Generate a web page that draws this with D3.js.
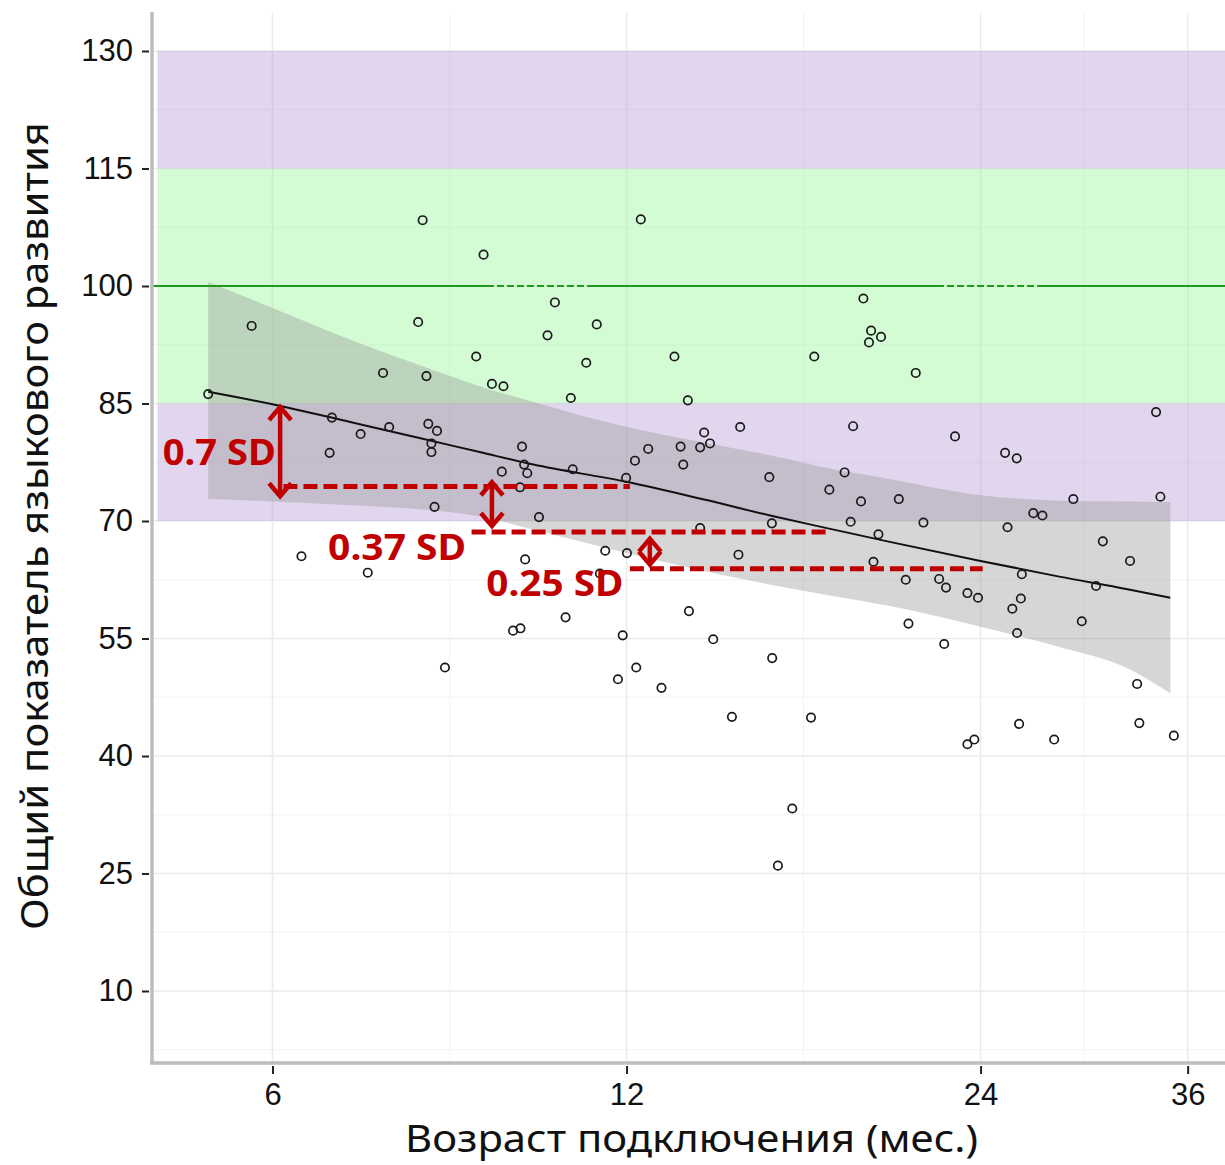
<!DOCTYPE html>
<html><head><meta charset="utf-8">
<script src="https://cdn.jsdelivr.net/npm/d3@7"></script>
<style>body{margin:0;background:#fff}</style>
</head><body><svg id="c" width="1225" height="1165" xmlns="http://www.w3.org/2000/svg"></svg>
<script>
// ---- data ----
const ageMonths = [9.07,5.76,7.98,8.94,7.45,8.11,9.22,9.43,10.28,5.29,6.74,7.13,7.54,8.14,8.28,8.19,8.19,6.71,9.78,9.82,
  9.88,9.40,9.74,8.24,10.11,10.43,11.32,11.09,13.18,17.33,10.76,13.53,10.80,12.52,12.20,11.99,13.34,13.41,13.97,13.86,
  14.13,14.99,15.87,17.85,18.39,18.70,13.86,15.95,18.61,19.08,19.37,19.75,19.29,21.14,33.84,22.83,25.18,25.76,18.99,20.45,
  21.46,19.65,26.61,27.09,28.78,34.13,25.30,30.49,32.16,19.46,20.73,22.13,22.43,23.39,23.88,26.02,25.97,25.54,30.09,25.78,
  29.26,20.84,22.35,32.61,32.75,25.88,27.72,23.39,23.71,35.04,9.84,11.51,12.01,14.94,11.39,9.61,9.75,10.65,13.56,11.91,
  14.22,15.96,12.23,11.80,12.85,14.75,17.22,16.60,16.14,6.35,7.23,8.41,8.05,12.34];
const languageScore = [104.0,94.9,95.4,91.0,88.9,88.5,87.5,87.2,93.7,86.2,83.2,81.1,82.0,82.4,81.5,79.9,78.8,78.7,79.5,77.2,
  76.1,76.3,74.3,71.8,70.5,97.9,95.1,90.2,91.0,91.0,85.7,85.4,76.6,79.2,77.7,75.5,79.5,77.2,81.3,79.4,
  79.9,82.0,75.6,74.0,76.2,82.1,69.1,69.7,69.9,98.4,94.3,93.5,92.8,88.9,83.9,80.8,78.7,78.0,72.5,72.8,
  69.8,68.3,71.0,70.7,72.8,73.1,69.2,67.4,64.9,64.8,62.5,62.6,61.5,60.8,60.2,63.2,60.1,58.8,61.7,55.7,
  57.2,56.9,54.3,49.2,44.2,44.1,42.1,41.5,42.1,42.6,65.1,66.2,65.9,65.7,63.3,56.0,56.3,57.7,58.5,55.4,
  54.9,52.5,51.3,49.8,48.7,45.0,44.9,33.3,26.0,65.5,63.4,51.3,108.4,108.5];

const fitAge   = [5.29, 6, 7, 8, 9, 10, 12, 14, 16, 18, 20, 24, 28, 32, 34.8];
const fitScore = [86.5, 84.9, 82.6, 80.6, 78.8, 77.2, 75.0, 72.7, 70.6, 68.9, 67.4, 64.9, 62.9, 61.3, 60.2];
const ciUpper  = [100.5, 97.2, 93.1, 89.9, 87.2, 85.2, 82.0, 80.0, 78.3, 76.6, 75.4, 73.3, 72.6, 72.5, 72.4];
const ciLower  = [72.8, 72.5, 72.0, 71.5, 70.6, 68.9, 65.9, 63.6, 61.8, 60.4, 59.2, 56.5, 53.9, 51.2, 48.0];

const bandLow  = [115, 85, 70];
const bandHigh = [130, 115, 85];
const bandKind = ['purple', 'green', 'purple'];
const bandStartAge = 4.79;
const normScore = 100;
const normDashedRanges = [[9.13, 11.13], [22.04, 26.86]];

const yTicks = [10, 25, 40, 55, 70, 85, 100, 115, 130];
const yMinor = [2.5, 17.5, 32.5, 47.5, 62.5, 77.5, 92.5, 107.5, 122.5];
const xTicks = [6, 12, 24, 36];
const xMinor = [8.49, 16.97, 29.39];

const sdLabels      = ['0.7 SD', '0.37 SD', '0.25 SD'];
const sdArrowAge    = [6.09, 9.22, 12.56];
const sdArrowTop    = [84.8, 75.2, 68.0];
const sdArrowBottom = [72.9, 69.1, 64.2];
const sdDashFrom    = [6.13, 8.86, 12.08];
const sdDashTo      = [12.08, 17.76, 24.10];
const sdDashLevel   = [74.4, 68.6, 63.9];
const sdLabelAge    = [4.84, 6.69, 9.12];
const sdLabelScore  = [77.1, 65.0, 60.4];

const xTitle = 'Возраст подключения (мес.)';
const yTitle = 'Общий показатель языкового развития';

// ---- styles ----
const colors = { purple: '#b399d4', green: '#94f894', red: '#c00000', norm: '#1f9a1f' };
const P = { left: 152, right: 1225, top: 13, bottom: 1062 };

const svg = d3.select('#c');
const x = d3.scaleLog().domain([4.739, 38.73]).range([P.left, P.right]);
const y = d3.scaleLinear().domain([0.936, 134.85]).range([P.bottom, P.top]);

svg.append('defs').append('clipPath').attr('id', 'clip')
  .append('rect').attr('x', P.left).attr('y', P.top).attr('width', P.right - P.left).attr('height', P.bottom - P.top);

const plot = svg.append('g').attr('clip-path', 'url(#clip)');

// grid
plot.selectAll('.gminy').data(yMinor).join('line')
  .attr('x1', P.left).attr('x2', P.right).attr('y1', d => y(d)).attr('y2', d => y(d))
  .attr('stroke', '#f2f2f2').attr('stroke-width', 1);
plot.selectAll('.gminx').data(xMinor).join('line')
  .attr('y1', P.top).attr('y2', P.bottom).attr('x1', d => x(d)).attr('x2', d => x(d))
  .attr('stroke', '#f2f2f2').attr('stroke-width', 1);
plot.selectAll('.gmajy').data(yTicks).join('line')
  .attr('x1', P.left).attr('x2', P.right).attr('y1', d => y(d)).attr('y2', d => y(d))
  .attr('stroke', '#ebebeb').attr('stroke-width', 1.6);
plot.selectAll('.gmajx').data(xTicks).join('line')
  .attr('y1', P.top).attr('y2', P.bottom).attr('x1', d => x(d)).attr('x2', d => x(d))
  .attr('stroke', '#ebebeb').attr('stroke-width', 1.6);

// bands
plot.selectAll('.band').data(bandLow.map((lo, i) => ({ lo, hi: bandHigh[i], k: bandKind[i] }))).join('rect')
  .attr('x', x(bandStartAge)).attr('width', P.right + 50 - x(bandStartAge))
  .attr('y', d => y(d.hi)).attr('height', d => y(d.lo) - y(d.hi))
  .attr('fill', d => colors[d.k]).attr('fill-opacity', 0.4);

// confidence ribbon
const fitRows = fitAge.map((a, i) => ({ a, f: fitScore[i], lo: ciLower[i], hi: ciUpper[i] }));
plot.append('path').datum(fitRows)
  .attr('d', d3.area().x(d => x(d.a)).y0(d => y(d.lo)).y1(d => y(d.hi)).curve(d3.curveMonotoneX))
  .attr('fill', '#999999').attr('fill-opacity', 0.4);

// norm line at 100 (solid with two dashed stretches)
const xDom = x.domain();
const cuts = [xDom[0]].concat(normDashedRanges.flat()).concat([xDom[1]]);
for (let i = 0; i < cuts.length - 1; i++) {
  plot.append('line')
    .attr('x1', x(cuts[i])).attr('x2', x(cuts[i + 1]))
    .attr('y1', y(normScore)).attr('y2', y(normScore))
    .attr('stroke', colors.norm).attr('stroke-width', 2)
    .attr('stroke-dasharray', i % 2 === 1 ? '7,3' : null);
}

// fit line
plot.append('path').datum(fitRows)
  .attr('d', d3.line().x(d => x(d.a)).y(d => y(d.f)).curve(d3.curveMonotoneX))
  .attr('fill', 'none').attr('stroke', '#111').attr('stroke-width', 2);

// points
plot.selectAll('.pt').data(ageMonths.map((a, i) => ({ a, s: languageScore[i] }))).join('circle')
  .attr('cx', d => x(d.a)).attr('cy', d => y(d.s)).attr('r', 4.2)
  .attr('fill', 'none').attr('stroke', '#1a1a1a').attr('stroke-width', 1.7);

// annotations
const ann = svg.append('g');
sdLabels.forEach((lab, i) => {
  ann.append('line')
    .attr('x1', x(sdDashFrom[i])).attr('x2', x(sdDashTo[i]))
    .attr('y1', y(sdDashLevel[i])).attr('y2', y(sdDashLevel[i]))
    .attr('stroke', colors.red).attr('stroke-width', 5).attr('stroke-dasharray', '14,6');
  const ax = x(sdArrowAge[i]), t = y(sdArrowTop[i]), b = y(sdArrowBottom[i]);
  ann.append('line').attr('x1', ax).attr('x2', ax).attr('y1', t + 2).attr('y2', b - 2)
    .attr('stroke', colors.red).attr('stroke-width', 4.5);
  ann.append('path').attr('d', `M${ax - 11},${t + 15} L${ax},${t + 2} L${ax + 11},${t + 15}`)
    .attr('fill', 'none').attr('stroke', colors.red).attr('stroke-width', 4.5).attr('stroke-linejoin', 'miter');
  ann.append('path').attr('d', `M${ax - 11},${b - 15} L${ax},${b - 2} L${ax + 11},${b - 15}`)
    .attr('fill', 'none').attr('stroke', colors.red).attr('stroke-width', 4.5).attr('stroke-linejoin', 'miter');
  ann.append('text').attr('x', x(sdLabelAge[i])).attr('y', y(sdLabelScore[i]))
    .attr('font-family', '"Noto Sans", "Open Sans", sans-serif').attr('font-weight', 'bold')
    .attr('font-size', 35).attr('fill', colors.red)
    .attr('textLength', [113, 138, 137][i]).attr('lengthAdjust', 'spacingAndGlyphs')
    .text(lab);
});

// axes lines
svg.append('line').attr('x1', P.left).attr('x2', P.left).attr('y1', 12).attr('y2', 1064)
  .attr('stroke', '#bdbdbd').attr('stroke-width', 3.5);
svg.append('line').attr('x1', P.left - 2).attr('x2', P.right).attr('y1', 1063).attr('y2', 1063)
  .attr('stroke', '#bdbdbd').attr('stroke-width', 3.5);

// y axis ticks
const yAx = svg.append('g').attr('transform', 'translate(149,0)')
  .call(d3.axisLeft(y).tickValues(yTicks).tickSize(7).tickPadding(9));
yAx.select('.domain').remove();
yAx.selectAll('line').attr('stroke', '#222').attr('stroke-width', 2);
yAx.selectAll('text').attr('font-family', '"Liberation Sans", Arial, sans-serif').attr('font-size', 31).attr('fill', '#111');

// x axis ticks
const xAx = svg.append('g').attr('transform', 'translate(0,1066)')
  .call(d3.axisBottom(x).tickValues(xTicks).tickFormat(d3.format('d')).tickSize(8).tickPadding(9));
xAx.select('.domain').remove();
xAx.selectAll('line').attr('stroke', '#222').attr('stroke-width', 2);
xAx.selectAll('text').attr('font-family', '"Liberation Sans", Arial, sans-serif').attr('font-size', 31).attr('fill', '#111');

// titles
svg.append('text').attr('x', 691.5).attr('y', 1152).attr('text-anchor', 'middle')
  .attr('font-family', '"Noto Sans", "Open Sans", sans-serif').attr('font-size', 38).attr('fill', '#111')
  .attr('textLength', 573).attr('lengthAdjust', 'spacingAndGlyphs').text(xTitle);
svg.append('text').attr('transform', 'translate(48,526) rotate(-90)').attr('text-anchor', 'middle')
  .attr('font-family', '"Noto Sans", "Open Sans", sans-serif').attr('font-size', 39).attr('fill', '#111')
  .attr('textLength', 808).attr('lengthAdjust', 'spacingAndGlyphs').text(yTitle);
</script>
</body></html>
